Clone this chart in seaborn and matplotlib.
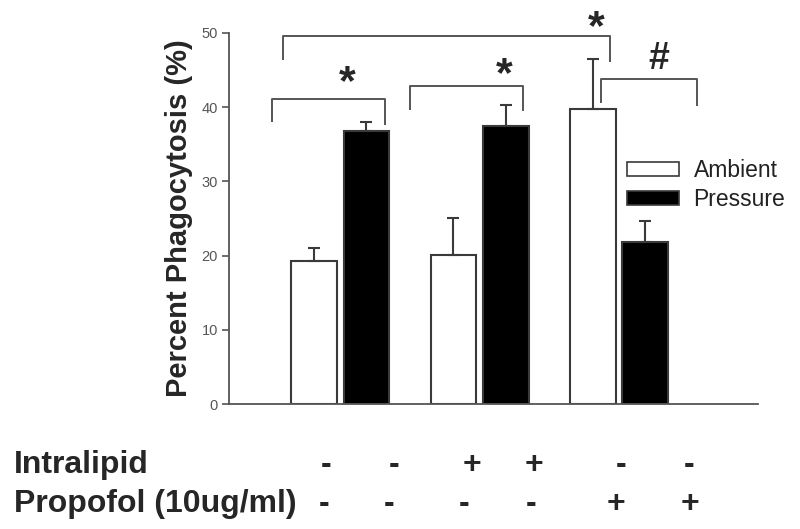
import numpy as np
import pandas as pd
import matplotlib
matplotlib.use("Agg")
import matplotlib.pyplot as plt
import seaborn as sns

# values
groups = ["Control", "Intralipid", "Propofol"]
conditions = ["Ambient", "Pressure"]
ambient_mean = [19.3, 20.1, 39.7]
ambient_err = [1.7, 5.0, 6.8]
pressure_mean = [36.8, 37.4, 21.8]
pressure_err = [1.2, 2.9, 2.8]

# treatment table under the chart
row_labels = ["Intralipid", "Propofol (10ug/ml)"]
intralipid_signs = ["-", "-", "+", "+", "-", "-"]
propofol_signs = ["-", "-", "-", "-", "+", "+"]

# significance brackets: (x_left, x_right, y_top, y_left_end, y_right_end, mark, mark_x, mark_y)
brackets = [
    (-0.41, 1.94, 49.6, 46.4, 46.05, "*", 1.84, 50.6),
    (-0.49, 0.32, 41.1, 38.0, 37.6, "*", 0.05, 43.3),
    (0.50, 1.31, 42.9, 39.6, 39.5, "*", 1.18, 44.3),
    (1.87, 2.56, 43.8, 40.6, 40.2, "#", 2.29, 46.5),
]

df = pd.DataFrame({
    "group": groups * 2,
    "condition": ["Ambient"] * 3 + ["Pressure"] * 3,
    "value": ambient_mean + pressure_mean,
})

sns.set_style("white")
plt.rcParams["font.family"] = ["Liberation Sans", "DejaVu Sans"]

fig = plt.figure(figsize=(8, 5.29), dpi=100)
ax = fig.add_axes([229 / 800, 1 - 404 / 529, (758 - 229) / 800, (404 - 33) / 529])

sns.barplot(data=df, x="group", y="value", hue="condition", order=groups,
            hue_order=conditions, palette={"Ambient": "white", "Pressure": "black"},
            width=0.75, gap=0.12, edgecolor="#3a3a3a", linewidth=1.5,
            errorbar=None, legend=False, ax=ax)

# upward-only error bars
for container, errs in zip(ax.containers, [ambient_err, pressure_err]):
    for bar, e in zip(container, errs):
        cx = bar.get_x() + bar.get_width() / 2
        ax.errorbar(cx, bar.get_height(), yerr=[[0], [e]], fmt="none",
                    ecolor="#3a3a3a", elinewidth=1.5, capsize=4.2, capthick=1.5,
                    zorder=3)

ax.set_xlim(-0.8, 3.0)
ax.set_ylim(0, 50)
ax.set_yticks([0, 10, 20, 30, 40, 50])
ax.set_xticks([])
ax.set_xlabel("")
ax.set_ylabel("Percent Phagocytosis (%)", fontsize=21, fontweight="bold", labelpad=6)
ax.tick_params(axis="y", direction="out", length=5, width=1.2, color="#555555",
               labelsize=10.5, labelcolor="#555555", pad=3, left=True)
sns.despine(ax=ax)
for s in ["left", "bottom"]:
    ax.spines[s].set_color("#555555")
    ax.spines[s].set_linewidth(1.3)

# brackets and markers
for x0, x1, yt, yl, yr, mark, mx, my in brackets:
    ax.plot([x0, x0, x1, x1], [yl, yt, yt, yr], color="#555555", lw=1.4,
            clip_on=False, solid_capstyle="butt")
    ax.text(mx, my, mark, ha="center", va="center", fontsize=31 if mark == "*" else 27,
            fontweight="heavy", clip_on=False)

# legend
handles = [plt.Rectangle((0, 0), 1, 1, facecolor=c, edgecolor="#3a3a3a", linewidth=1.2)
           for c in ["white", "black"]]
ax.legend(handles, conditions, loc="upper left", bbox_to_anchor=(627 / 800, 1 - 159 / 529),
          bbox_transform=fig.transFigure, frameon=False, fontsize=16.5,
          handlelength=2.25, handleheight=0.55, handletextpad=0.65, labelspacing=0.25,
          borderpad=0, borderaxespad=0, labelcolor="#222222")

# treatment table
sign_x_intra = [326, 394, 472, 534, 621, 689]
sign_x_prop = [324, 389, 464, 531, 616, 690]
row_base = [473, 512]
for label, yb in zip(row_labels, row_base):
    fig.text(14 / 800, 1 - yb / 529, label, fontsize=23, fontweight="bold",
             ha="left", va="baseline")
for signs, xs, yb in zip([intralipid_signs, propofol_signs],
                         [sign_x_intra, sign_x_prop], row_base):
    for s, x in zip(signs, xs):
        fig.text(x / 800, 1 - yb / 529, s, fontsize=23, fontweight="bold",
                 ha="center", va="baseline")

fig.savefig("out.png", dpi=100)
